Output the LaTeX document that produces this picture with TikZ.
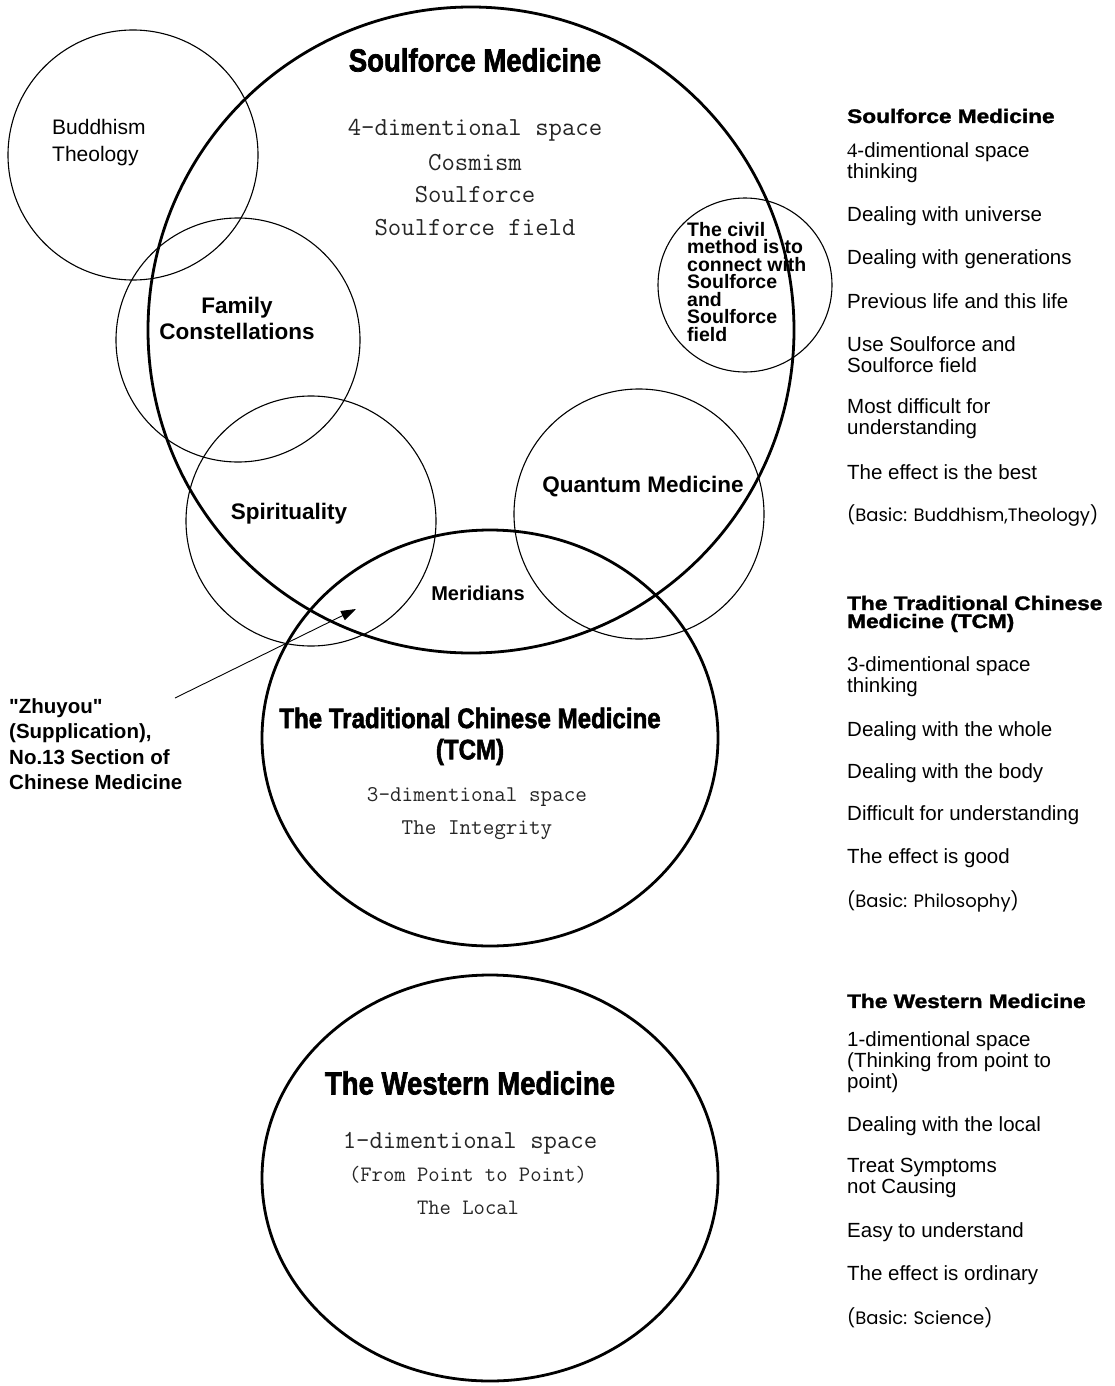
\documentclass[tikz,border=0pt]{standalone}
\usepackage{fontspec}
\setmainfont{Liberation Sans}[Ligatures=TeXOff]
\newfontfamily\heavyfont[FakeBold=2.2]{Liberation Sans Bold}
\newfontfamily\rheadfont[FakeBold=1.5]{Liberation Sans Bold}
\newfontfamily\geofont{Poppins}
\newfontfamily\serifnum{Liberation Serif}
\usetikzlibrary{arrows.meta}
\newcommand\ctitle[2]{\scalebox{0.86}[1]{\heavyfont\fontsize{#1}{#1}\selectfont #2}}
\newcommand\rhead[1]{\scalebox{1.16}[1]{\rheadfont\fontsize{19.5}{20}\selectfont #1}}
\begin{document}
\begin{tikzpicture}[x=1pt,y=-1pt,
  big/.style={line width=2.8pt},
  small/.style={line width=1.1pt},
  lbl/.style={inner sep=0pt, font=\fontsize{21}{21}\selectfont},
  blbl/.style={inner sep=0pt, font=\bfseries\fontsize{22.5}{26}\selectfont},
  mono/.style={inner sep=0pt, text=black!85, font=\ttfamily\fontsize{#1}{#1}\selectfont},
  ttl/.style={inner sep=0pt},
  col/.style={inner sep=0pt, anchor=west, align=left, font=\fontsize{20.5}{21}\selectfont},
  geo/.style={inner sep=0pt, anchor=west, font=\geofont\fontsize{18}{20}\selectfont}]
\useasboundingbox (0,0) rectangle (1115,1386);
\fill[white] (0,0) rectangle (1115,1386);

% circles
\draw[big] (471,330) circle[radius=323];
\draw[big] (490,738) circle[x radius=228, y radius=208];
\draw[big] (490,1178) circle[x radius=228, y radius=203];
\draw[small] (133,155) circle[radius=125];
\draw[small] (238,340) circle[radius=122];
\draw[small] (311,521) circle[radius=125];
\draw[small] (639,514) circle[radius=125];
\draw[small] (745,285) circle[radius=87];

% Soulforce circle
\node[ttl] (smt) at (475,60) {\ctitle{32}{Soulforce Medicine}};
\node[mono=26] (sm1) at (475,130) {4-dimentional space};
\node[mono=26] (sm2) at (475,163) {Cosmism};
\node[mono=26] (sm3) at (475,195) {Soulforce};
\node[mono=26] (sm4) at (475,228) {Soulforce field};

\node[lbl, align=left, anchor=west, font=\fontsize{21}{27}\selectfont] (bud) at (52,143) {Buddhism\\Theology};
\node[blbl, align=center] (fam) at (237,318) {Family\\Constellations};
\node[blbl] (spi) at (289,514) {Spirituality};
\node[blbl] (qm) at (643,487) {Quantum Medicine};
\node[inner sep=0pt, font=\bfseries\fontsize{20}{20}\selectfont] (mer) at (478,593) {Meridians};
\node[inner sep=0pt, anchor=north west, align=left, font=\bfseries\fontsize{19.5}{17.5}\selectfont] (civ) at (687,222) {The civil\\method is to\\connect with\\Soulforce\\and\\Soulforce\\field};

% TCM circle
\node[ttl] (tcm1) at (470,718) {\ctitle{28}{The Traditional Chinese Medicine}};
\node[ttl] (tcm2) at (470,752) {\ctitle{28}{(TCM)}};
\node[mono=22.5] (tcm3) at (477,797) {3-dimentional space};
\node[mono=22.5] (tcm4) at (477,830) {The Integrity};

% Western circle
\node[ttl] (wm1) at (470,1083) {\ctitle{32}{The Western Medicine}};
\node[mono=26] (wm2) at (470,1143) {1-dimentional space};
\node[mono=22] (wm3) at (468,1175) {(From Point to Point)};
\node[mono=22] (wm4) at (468,1208) {The Local};

% Zhuyou label and arrow
\node[inner sep=0pt, anchor=north west, align=left, font=\bfseries\fontsize{20.5}{25.5}\selectfont] (zhu) at (9,698) {"Zhuyou"\\(Supplication),\\No.13 Section of\\Chinese Medicine};
\coordinate (zs) at (175,698);
\coordinate (zt) at (356,609);
\draw[line width=0.9pt, -{Triangle[length=15pt,width=10pt]}] (zs) -- (zt);

% Right column: Soulforce
\node[inner sep=0pt, anchor=west] (r1h) at (847,116) {\rhead{Soulforce Medicine}};
\node[col] (r1a) at (847,163) {{\serifnum 4}-dimentional space\\thinking};
\node[col] (r1b) at (847,216) {Dealing with universe};
\node[col] (r1c) at (847,259) {Dealing with generations};
\node[col] (r1d) at (847,301) {Previous life and this life};
\node[col] (r1e) at (847,355) {Use Soulforce and\\Soulforce field};
\node[col] (r1f) at (847,419) {Most difficult for\\understanding};
\node[col] (r1g) at (847,472) {The effect is the best};
\node[geo] (r1i) at (847,516) {(Basic: Buddhism,Theology)};

% Right column: TCM
\node[inner sep=0pt, anchor=west] (r2ha) at (847,603) {\rhead{The Traditional Chinese}};
\node[inner sep=0pt, anchor=west] (r2hb) at (847,623) {\rhead{Medicine (TCM)}};
\node[col] (r2a) at (847,677) {3-dimentional space\\thinking};
\node[col] (r2b) at (847,731) {Dealing with the whole};
\node[col] (r2c) at (847,773) {Dealing with the body};
\node[col] (r2d) at (847,815) {Difficult for understanding};
\node[col] (r2e) at (847,858) {The effect is good};
\node[geo] (r2f) at (847,901) {(Basic: Philosophy)};

% Right column: Western
\node[inner sep=0pt, anchor=west] (r3h) at (847,1001) {\rhead{The Western Medicine}};
\node[col] (r3a) at (847,1062) {1-dimentional space\\(Thinking from point to\\point)};
\node[col] (r3b) at (847,1126) {Dealing with the local};
\node[col] (r3c) at (847,1178) {Treat Symptoms\\not Causing};
\node[col] (r3d) at (847,1232) {Easy to understand};
\node[col] (r3e) at (847,1275) {The effect is ordinary};
\node[geo] (r3f) at (847,1318) {(Basic: Science)};
\end{tikzpicture}
\end{document}
